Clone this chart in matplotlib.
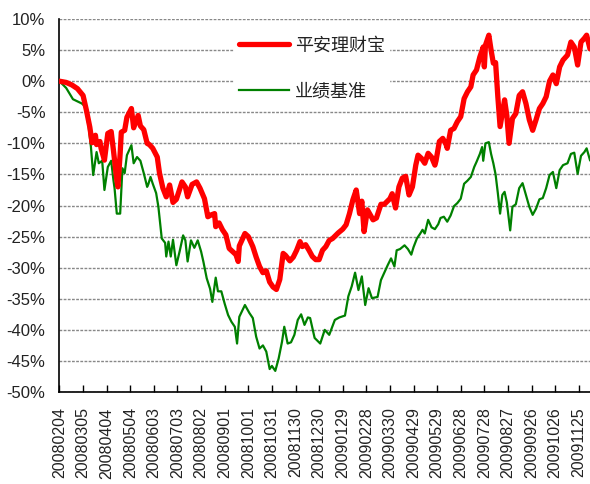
import matplotlib
matplotlib.use("Agg")
import matplotlib.pyplot as plt

plt.rcParams['font.family'] = ['Liberation Sans', 'Noto Sans CJK SC', 'DejaVu Sans']

# x 轴标签（每 21 个交易日一个）
tick_labels = ["20080204", "20080305", "20080404", "20080504", "20080603",
               "20080703", "20080802", "20080901", "20081001", "20081031",
               "20081130", "20081230", "20090129", "20090228", "20090330",
               "20090429", "20090529", "20090628", "20090728", "20090827",
               "20090926", "20091026", "20091125"]
tick_step = 21
last_day = 472

y_ticks = [-50, -45, -40, -35, -30, -25, -20, -15, -10, -5, 0, 5, 10]

# 平安理财宝 累计收益 (%)
red_days = [0, 6, 11, 16, 21, 24, 27, 29, 32, 33, 36, 37, 40, 43, 46, 48, 51, 52,
            54, 55, 58, 60, 64, 66, 70, 72, 75, 78, 80, 83, 87, 89, 92, 95, 98,
            101, 104, 109, 112, 114, 118, 122, 125, 129, 132, 135, 138, 139, 142,
            145, 148, 151, 154, 157, 159, 160, 165, 168, 172, 175, 178, 181, 184,
            187, 190, 193, 196, 199, 201, 205, 208, 211, 214, 216, 219, 222, 225,
            228, 231, 234, 237, 240, 243, 248, 252, 255, 258, 261, 264, 267, 269,
            271, 274, 279, 282, 286, 289, 294, 296, 299, 302, 305, 308, 311, 314,
            317, 319, 322, 325, 328, 331, 334, 335, 338, 341, 344, 345, 348, 351,
            354, 357, 360, 363, 366, 368, 371, 374, 377, 378, 379, 382, 384, 386,
            388, 390, 392, 394, 396, 398, 400, 403, 406, 409, 412, 415, 418, 421,
            424, 427, 430, 433, 436, 439, 442, 445, 448, 452, 455, 458, 461, 464,
            467, 469, 472]
red_vals = [0.0, -0.2, -0.6, -1.2, -2.3, -4.7, -7.4, -9.9, -8.7, -10.2, -9.7, -10.8,
            -12.7, -8.4, -8.1, -11.1, -15.9, -17.0, -11.6, -8.2, -7.9, -5.8, -4.4,
            -7.5, -5.5, -7.2, -7.8, -10.0, -10.2, -10.8, -12.2, -14.8, -17.2, -18.6,
            -16.7, -19.5, -19.0, -16.2, -17.0, -18.6, -16.6, -16.2, -17.2, -18.9,
            -21.8, -21.5, -21.3, -23.4, -22.8, -23.9, -24.7, -26.9, -27.4, -27.9,
            -29.0, -26.5, -24.5, -25.0, -26.6, -28.3, -29.8, -30.8, -30.5, -32.3,
            -33.1, -33.5, -31.9, -27.7, -28.0, -28.9, -28.3, -27.2, -25.8, -26.6,
            -26.3, -27.2, -28.2, -28.7, -28.7, -27.2, -26.6, -25.6, -25.3, -24.4,
            -23.8, -23.1, -21.3, -19.1, -17.5, -21.3, -19.3, -24.2, -20.7, -22.3,
            -22.0, -19.8, -19.8, -18.9, -18.1, -20.4, -17.0, -15.6, -15.3, -18.3,
            -17.0, -13.5, -11.9, -12.4, -13.2, -11.6, -12.2, -13.5, -12.8, -9.7,
            -9.2, -10.2, -10.8, -7.9, -7.6, -6.5, -5.7, -2.8, -1.7, -0.9, 1.0, 1.8,
            3.9, 5.5, 2.3, 5.8, 7.4, 5.0, 2.9, 3.0, -2.5, -7.3, -5.2, -3.0, -5.5,
            -10.0, -6.0, -5.2, -2.3, -1.7, -3.6, -6.2, -7.9, -6.2, -4.4, -3.6, -2.5,
            0.0, 1.0, -0.4, 2.3, 3.4, 4.2, 6.3, 5.5, 2.6, 6.3, 6.9, 7.4, 5.2]

# 业绩基准 累计收益 (%)
green_days = [0, 6, 12, 20, 23, 26, 28, 30, 33, 35, 38, 40, 43, 46, 48, 49, 51, 54,
              56, 58, 60, 64, 66, 69, 72, 75, 78, 79, 81, 83, 86, 88, 91, 94, 95,
              97, 99, 101, 104, 107, 110, 112, 114, 117, 120, 123, 126, 128, 131,
              134, 136, 139, 141, 144, 147, 150, 153, 156, 158, 160, 165, 169, 172,
              175, 178, 181, 184, 187, 189, 192, 195, 198, 200, 203, 206, 209, 212,
              215, 218, 221, 223, 227, 232, 236, 240, 245, 249, 254, 257, 260, 263,
              266, 269, 272, 275, 278, 283, 286, 289, 292, 295, 298, 300, 303, 307,
              310, 313, 315, 318, 321, 323, 325, 328, 331, 334, 337, 339, 342, 345,
              348, 351, 354, 357, 360, 363, 366, 369, 371, 374, 376, 377, 379, 382,
              384, 386, 388, 390, 392, 394, 396, 398, 401, 403, 406, 409, 412, 415,
              418, 421, 424, 427, 430, 433, 436, 439, 442, 445, 448, 452, 455, 458,
              461, 464, 467, 469, 472]
green_vals = [0.0, -1.1, -2.9, -3.6, -4.1, -7.4, -10.6, -15.1, -11.4, -13.2, -12.8,
              -17.5, -13.8, -12.8, -15.9, -17.2, -21.3, -21.3, -14.0, -14.8, -11.9,
              -10.3, -13.2, -12.2, -12.8, -14.8, -17.0, -16.6, -15.4, -16.5, -18.0,
              -20.2, -25.3, -26.0, -28.2, -25.8, -28.2, -25.5, -29.6, -27.3, -24.8,
              -25.6, -29.0, -25.6, -26.8, -25.6, -27.4, -29.0, -31.7, -33.4, -35.5,
              -31.6, -33.8, -33.8, -35.8, -37.6, -38.7, -39.5, -42.2, -37.9, -36.0,
              -37.3, -38.1, -41.1, -43.0, -42.5, -43.5, -46.3, -45.8, -46.6, -44.6,
              -41.9, -39.5, -42.2, -42.0, -40.8, -38.4, -37.5, -39.2, -38.0, -38.1,
              -41.3, -42.2, -40.0, -40.8, -38.4, -38.0, -37.7, -34.6, -33.0, -30.8,
              -33.6, -31.4, -36.0, -33.3, -34.9, -34.7, -32.0, -30.8, -29.6, -28.5,
              -29.8, -27.2, -27.0, -26.4, -27.0, -27.9, -26.7, -25.3, -24.5, -23.9,
              -24.5, -22.3, -23.5, -23.8, -23.0, -22.0, -21.8, -22.6, -21.6, -20.1,
              -19.6, -18.9, -16.5, -16.0, -15.4, -13.8, -13.0, -11.7, -10.6, -12.8,
              -10.0, -9.8, -11.7, -13.2, -15.0, -18.0, -21.3, -18.3, -17.8, -19.5,
              -24.0, -20.2, -19.8, -17.2, -16.4, -18.3, -20.2, -21.5, -20.5, -19.0,
              -18.8, -17.2, -15.1, -14.6, -17.2, -14.3, -13.5, -13.2, -11.7, -11.5,
              -14.9, -12.0, -11.4, -10.8, -12.7]

fig = plt.figure(figsize=(5.9, 4.84), dpi=100)
ax = fig.add_axes([0.1008, 0.19, 0.8992, 0.7707])

line_red, = ax.plot(red_days, red_vals, color="#ff0000", linewidth=3.8,
                    solid_capstyle="round", solid_joinstyle="round",
                    label="平安理财宝", zorder=4)
line_green, = ax.plot(green_days, green_vals, color="#008000", linewidth=1.6,
                      label="业绩基准", zorder=3)

ax.set_xlim(0, last_day)
ax.set_ylim(-50, 10)

ax.set_xticks(range(0, tick_step * len(tick_labels), tick_step))
ax.set_xticklabels(tick_labels, rotation=90, fontsize=11.5, color="#222222")
ax.set_yticks(y_ticks)
ax.set_yticklabels([f"{v}%" for v in y_ticks], fontsize=12, color="#222222")

ax.tick_params(axis="y", length=0, pad=10)
ax.tick_params(axis="x", direction="in", length=5, width=1, pad=11)

ax.yaxis.grid(True, color="#888888", linestyle=(0, (2, 1)), linewidth=1)
ax.set_axisbelow(True)

ax.spines["top"].set_visible(False)
ax.spines["right"].set_visible(False)
ax.spines["left"].set_linewidth(1.2)
ax.spines["bottom"].set_linewidth(1.2)

# 图例（白底无边框，遮住网格线）
leg = ax.legend(handles=[line_red, line_green], loc="upper left",
                bbox_to_anchor=(0.382, 0.952), bbox_transform=fig.transFigure,
                prop={"family": "Noto Sans CJK SC", "size": 13},
                frameon=True, facecolor="white", edgecolor="white", framealpha=1,
                fancybox=False, borderpad=0.25, labelspacing=1.55,
                handlelength=2.8, handletextpad=0.3)
for t in leg.get_texts():
    t.set_color("#222222")

fig.savefig("out.png", dpi=100)
plt.close(fig)
